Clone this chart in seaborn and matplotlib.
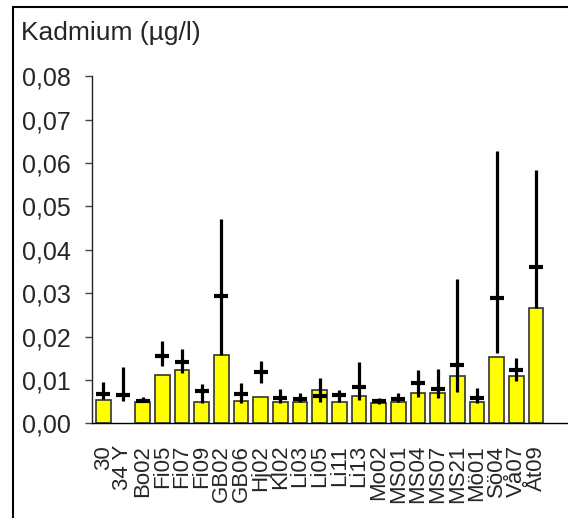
import numpy as np
import pandas as pd
import matplotlib
matplotlib.use("Agg")
import matplotlib.pyplot as plt
from matplotlib.patches import Rectangle
from matplotlib.ticker import FuncFormatter, MultipleLocator
import seaborn as sns

stationer = ["30", "34 Y", "Bo02", "Fi05", "Fi07", "Fi09", "GB02", "GB06", "Hj02",
             "Kl02", "Li03", "Li05", "Li11", "Li13", "Mo02", "MS01", "MS04", "MS07",
             "MS21", "Mö01", "Sö04", "Vå07", "Åt09"]
stapel = [0.0054, np.nan, 0.0050, 0.0112, 0.0124, 0.0050, 0.0157, 0.0051, 0.0061,
          0.0050, 0.0050, 0.0077, 0.0050, 0.0064, 0.0047, 0.0050, 0.0070, 0.0069,
          0.0110, 0.0050, 0.0153, 0.0108, 0.0266]
medel = [0.0068, 0.0065, 0.0052, 0.0155, 0.0142, 0.0074, 0.0293, 0.0068, 0.0118,
         0.0058, 0.0055, 0.0063, 0.0065, 0.0083, 0.0052, 0.0056, 0.0094, 0.0079,
         0.0134, 0.0059, 0.0289, 0.0123, 0.0361]
maxv = [0.0096, 0.0129, 0.0061, 0.0190, 0.0172, 0.0090, 0.0471, 0.0094, 0.0144,
        0.0078, 0.0070, 0.0104, 0.0077, 0.0142, 0.0058, 0.0071, 0.0124, 0.0126,
        0.0332, 0.0082, 0.0627, 0.0150, 0.0584]
minv = [0.0056, 0.0051, 0.0050, 0.0132, 0.0115, 0.0046, 0.0157, 0.0046, 0.0094,
        0.0046, 0.0050, 0.0050, 0.0050, 0.0054, 0.0044, 0.0050, 0.0060, 0.0058,
        0.0073, 0.0047, 0.0161, 0.0098, 0.0266]

df = pd.DataFrame({"station": stationer, "varde": stapel})

sns.set_style("white")
plt.rcParams["font.family"] = ["Liberation Sans", "DejaVu Sans"]

fig = plt.figure(figsize=(5.68, 5.18), dpi=100)
ax = fig.add_axes([91.7 / 568, 94.7 / 518, 1 - 91.7 / 568, 347 / 518])

sns.barplot(data=df, x="station", y="varde", order=stationer, color="#ffff00",
            saturation=1, width=0.75, edgecolor="#333333", linewidth=1.2, ax=ax)

x = np.arange(len(stationer))
ax.vlines(x, minv, maxv, color="black", linewidth=2.3, zorder=3)
ax.plot(x, medel, ls="none", marker="_", markersize=10, mew=3, color="black", zorder=4)

ax.set_xlim(-0.59, len(stationer) - 1 + 1.63)
ax.set_ylim(0, 0.08)
ax.yaxis.set_major_locator(MultipleLocator(0.01))
ax.yaxis.set_major_formatter(FuncFormatter(lambda v, p: f"{v:.2f}".replace(".", ",")))
ax.set_xlabel("")
ax.set_ylabel("")

sns.despine(ax=ax, top=True, right=True)
ax.spines["left"].set_color("#222222")
ax.spines["left"].set_linewidth(1)
ax.spines["bottom"].set_color("black")
ax.spines["bottom"].set_linewidth(1)

ax.tick_params(axis="y", left=True, length=5, width=1, color="#444444",
               labelsize=18, pad=10)
ax.tick_params(axis="x", bottom=False, labelsize=16, pad=12, labelrotation=90)
for lab in ax.get_xticklabels():
    lab.set_va("top")
    lab.set_ha("center")

fig.text(21 / 568, 1 - 40 / 518, "Kadmium (µg/l)", fontsize=19, va="baseline", ha="left")

fig.patches.append(Rectangle((12.7 / 568, -0.1), 1.2, 1.1 - 7 / 518, transform=fig.transFigure,
                             fill=False, edgecolor="black", linewidth=1.5))

fig.savefig("out.png", dpi=100)
